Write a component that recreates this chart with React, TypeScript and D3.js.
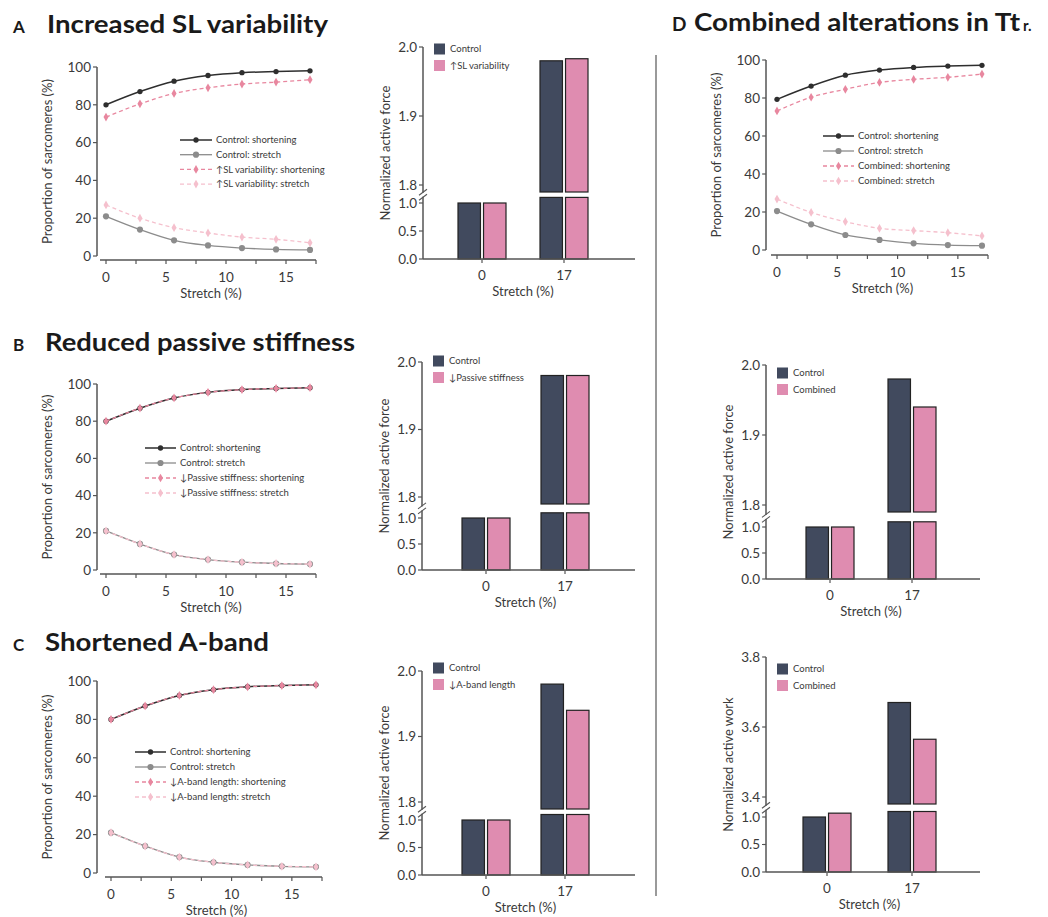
import { useRef, useEffect } from 'react'
import * as d3 from 'd3'

// line charts: proportion of sarcomeres vs stretch
const stretchPts = [0, 2.83, 5.67, 8.5, 11.33, 14.17, 17]
const ctrlShortening = [80, 87, 92.5, 95.5, 97, 97.6, 98]
const ctrlStretch = [21, 14, 8.3, 5.6, 4.2, 3.5, 3.2]
const slShortening = [73.5, 80.5, 86, 89, 91, 92, 93.3]
const slStretch = [27, 20, 15, 12.2, 10, 8.8, 7]
const passiveShortening = [80, 87, 92.5, 95.5, 97, 97.6, 98]
const passiveStretch = [21, 14, 8.3, 5.6, 4.2, 3.5, 3.2]
const abandShortening = [80, 87, 92.5, 95.5, 97, 97.6, 98]
const abandStretch = [21, 14, 8.3, 5.6, 4.2, 3.5, 3.2]
const dCtrlShortening = [79.3, 86.3, 92, 94.7, 96.1, 96.8, 97.2]
const dCtrlStretch = [20.5, 13.5, 7.9, 5.3, 3.5, 2.6, 2.3]
const combShortening = [73.2, 80.4, 84.6, 88.2, 89.8, 90.9, 92.6]
const combStretch = [26.8, 19.8, 14.9, 11.4, 10.2, 9.1, 7.4]

const stretchTicks = [0, 2.5, 5, 7.5, 10, 12.5, 15, 17.5]
const stretchLabels = [0, 5, 10, 15]
const proportionTicks = [0, 20, 40, 60, 80, 100]

// bar charts
const barCategories = ['0', '17']
const forceControl = [1.0, 1.98]
const forceSL = [1.0, 1.983]
const forcePassive = [1.0, 1.98]
const forceABand = [1.0, 1.94]
const forceCombined = [1.0, 1.94]
const workControl = [1.0, 3.67]
const workCombined = [1.07, 3.565]
const lowTicks = [0, 0.5, 1.0]
const forceTicks = [1.8, 1.9, 2.0]
const workTicks = [3.4, 3.6, 3.8]

const FONT = 'Lato, "Open Sans", sans-serif'
const TXT = '#3a3a3a'
const AXIS = '#555'
const DARK = '#2e2e2e'
const GREY = '#8c8c8c'
const PINK = '#e8879f'
const LPINK = '#f5c0cd'
const BAR_DARK = '#414a5e'
const BAR_PINK = '#df8cb0'
const TICK_SIZE = '13.5px'

function drawLinePanel(svg, cfg) {
    const x = d3.scaleLinear().domain([0, 17.5]).range([cfg.x0, cfg.x1])
    const y = d3.scaleLinear().domain([0, 100]).range([cfg.yBot, cfg.yTop])
    const g = svg.append('g')

    // y axis
    g.append('line')
        .attr('x1', cfg.ax).attr('x2', cfg.ax)
        .attr('y1', y(0)).attr('y2', y(100))
        .style('stroke', AXIS).style('stroke-width', 1.5)
    proportionTicks.forEach(t => {
        g.append('line')
            .attr('x1', cfg.ax - 4).attr('x2', cfg.ax)
            .attr('y1', y(t)).attr('y2', y(t))
            .style('stroke', AXIS).style('stroke-width', 1.2)
        g.append('text')
            .attr('x', cfg.ax - 6).attr('y', y(t)).attr('dy', '0.35em')
            .attr('text-anchor', 'end')
            .style('font-size', TICK_SIZE).style('font-family', FONT).style('fill', TXT)
            .text(t)
    })

    // x axis
    g.append('line')
        .attr('x1', x(0) - 6).attr('x2', x(17.5))
        .attr('y1', cfg.axisY).attr('y2', cfg.axisY)
        .style('stroke', AXIS).style('stroke-width', 1.5)
    stretchTicks.forEach(t => {
        g.append('line')
            .attr('x1', x(t)).attr('x2', x(t))
            .attr('y1', cfg.axisY).attr('y2', cfg.axisY + 4)
            .style('stroke', AXIS).style('stroke-width', 1.2)
    })
    stretchLabels.forEach(t => {
        g.append('text')
            .attr('x', x(t)).attr('y', cfg.axisY + 17).attr('dy', '0.35em')
            .attr('text-anchor', 'middle')
            .style('font-size', TICK_SIZE).style('font-family', FONT).style('fill', TXT)
            .text(t)
    })
    g.append('text')
        .attr('x', (x(0) + x(17.5)) / 2).attr('y', cfg.axisY + 33).attr('dy', '0.35em')
        .attr('text-anchor', 'middle')
        .style('font-size', '13px').style('font-family', FONT).style('fill', TXT)
        .text('Stretch (%)')
    g.append('text')
        .attr('transform', `translate(${cfg.ax - 50},${(y(0) + y(100)) / 2}) rotate(-90)`)
        .attr('dy', '0.35em')
        .attr('text-anchor', 'middle')
        .style('font-size', '13px').style('font-family', FONT).style('fill', TXT)
        .text('Proportion of sarcomeres (%)')

    const line = d3.line().x(d => x(d[0])).y(d => y(d[1])).curve(d3.curveMonotoneX)
    const marker = (s) => s.marker === 'circle'
        ? d3.symbol().type(d3.symbolCircle).size(s.size)()
        : d3.symbol().type(d3.symbolDiamond).size(s.size)()

    cfg.series.forEach(s => {
        const pts = stretchPts.map((v, i) => [v, s.values[i]])
        g.append('path')
            .attr('d', line(pts))
            .style('fill', 'none').style('stroke', s.color)
            .style('stroke-width', s.width)
            .style('stroke-dasharray', s.dash || null)
        g.selectAll(null)
            .data(pts)
            .enter()
            .append('path')
            .attr('d', marker(s))
            .attr('transform', d => `translate(${x(d[0])},${y(d[1])})`)
            .style('fill', s.color)
    })

    // legend
    cfg.series.forEach((s, i) => {
        const ly = cfg.legY + i * cfg.legStep
        g.append('line')
            .attr('x1', cfg.legX0).attr('x2', cfg.legX1)
            .attr('y1', ly).attr('y2', ly)
            .style('stroke', s.color).style('stroke-width', s.width)
            .style('stroke-dasharray', s.dash || null)
        g.append('path')
            .attr('d', marker(s))
            .attr('transform', `translate(${(cfg.legX0 + cfg.legX1) / 2},${ly})`)
            .style('fill', s.color)
        g.append('text')
            .attr('x', cfg.legX1 + 4).attr('y', ly).attr('dy', '0.35em')
            .style('font-size', '9.5px').style('font-family', FONT).style('fill', TXT)
            .text(s.label)
    })
}

function drawBarPanel(svg, cfg) {
    const low = d3.scaleLinear().domain([0, 1]).range([cfg.y0, cfg.y1])
    const high = d3.scaleLinear().domain([cfg.hiTicks[0], cfg.hiTicks[2]]).range([cfg.yLo, cfg.yHi])
    const xc = d3.scalePoint().domain(barCategories).range([cfg.c0, cfg.c1])
    const sub = d3.scaleBand().domain(['ctrl', 'treat']).range([-24, 24]).paddingInner(0.12)
    const g = svg.append('g')
    const cut = low(1.1)
    const upBottom = cfg.yLo + 7

    const series = [
        { key: 'ctrl', values: cfg.ctrl, color: BAR_DARK },
        { key: 'treat', values: cfg.treat, color: BAR_PINK },
    ]
    series.forEach(s => {
        barCategories.forEach((c, i) => {
            const v = s.values[i]
            const bx = xc(c) + sub(s.key)
            const bw = sub.bandwidth()
            const lowTop = v > 1.1 ? cut : low(v)
            g.append('rect')
                .attr('x', bx).attr('y', lowTop)
                .attr('width', bw).attr('height', cfg.y0 - lowTop)
                .style('fill', s.color).style('stroke', '#222').style('stroke-width', 1.2)
            if (v > 1.1) {
                g.append('rect')
                    .attr('x', bx).attr('y', high(v))
                    .attr('width', bw).attr('height', upBottom - high(v))
                    .style('fill', s.color).style('stroke', '#222').style('stroke-width', 1.2)
            }
        })
    })

    // y axis with break
    g.append('line')
        .attr('x1', cfg.ax).attr('x2', cfg.ax)
        .attr('y1', cfg.y0).attr('y2', cfg.yHi)
        .style('stroke', AXIS).style('stroke-width', 1.5)
    const by = (cut + upBottom) / 2
    g.append('rect')
        .attr('x', cfg.ax - 3).attr('y', by - 2)
        .attr('width', 6).attr('height', 4)
        .style('fill', '#fff')
    ;[-2.5, 2.5].forEach(o => {
        g.append('line')
            .attr('x1', cfg.ax - 4).attr('x2', cfg.ax + 4)
            .attr('y1', by + o + 3).attr('y2', by + o - 3)
            .style('stroke', AXIS).style('stroke-width', 1.1)
    })
    const ticks = [
        ...lowTicks.map(t => ({ t, y: low(t) })),
        ...cfg.hiTicks.map(t => ({ t, y: high(t) })),
    ]
    ticks.forEach(d => {
        g.append('line')
            .attr('x1', cfg.ax - 4).attr('x2', cfg.ax)
            .attr('y1', d.y).attr('y2', d.y)
            .style('stroke', AXIS).style('stroke-width', 1.2)
        g.append('text')
            .attr('x', cfg.ax - 6).attr('y', d.y).attr('dy', '0.35em')
            .attr('text-anchor', 'end')
            .style('font-size', TICK_SIZE).style('font-family', FONT).style('fill', TXT)
            .text(d.t.toFixed(1))
    })

    // x axis
    g.append('line')
        .attr('x1', cfg.ax).attr('x2', cfg.axEnd)
        .attr('y1', cfg.y0).attr('y2', cfg.y0)
        .style('stroke', AXIS).style('stroke-width', 1.5)
    barCategories.forEach(c => {
        g.append('line')
            .attr('x1', xc(c)).attr('x2', xc(c))
            .attr('y1', cfg.y0).attr('y2', cfg.y0 + 4)
            .style('stroke', AXIS).style('stroke-width', 1.2)
        g.append('text')
            .attr('x', xc(c)).attr('y', cfg.y0 + 16).attr('dy', '0.35em')
            .attr('text-anchor', 'middle')
            .style('font-size', TICK_SIZE).style('font-family', FONT).style('fill', TXT)
            .text(c)
    })
    g.append('text')
        .attr('x', (cfg.c0 + cfg.c1) / 2).attr('y', cfg.y0 + 32).attr('dy', '0.35em')
        .attr('text-anchor', 'middle')
        .style('font-size', '13px').style('font-family', FONT).style('fill', TXT)
        .text('Stretch (%)')
    g.append('text')
        .attr('transform', `translate(${cfg.ax - 38},${(cfg.y0 + cfg.yHi) / 2}) rotate(-90)`)
        .attr('dy', '0.35em')
        .attr('text-anchor', 'middle')
        .style('font-size', '13px').style('font-family', FONT).style('fill', TXT)
        .text(cfg.yLabel)

    // legend
    series.forEach((s, i) => {
        const ly = cfg.legY + i * 16.5
        g.append('rect')
            .attr('x', cfg.ax + 11).attr('y', ly - 5.5)
            .attr('width', 11).attr('height', 11)
            .style('fill', s.color)
        g.append('text')
            .attr('x', cfg.ax + 27).attr('y', ly).attr('dy', '0.35em')
            .style('font-size', '9.5px').style('font-family', FONT).style('fill', TXT)
            .text(cfg.labels[i])
    })
}

function lineSeries(short, stretch, tShort, tStretch, name) {
    return [
        { values: short, color: DARK, width: 1.5, marker: 'circle', size: 22, label: 'Control: shortening' },
        { values: stretch, color: GREY, width: 1.3, marker: 'circle', size: 30, label: 'Control: stretch' },
        { values: tShort, color: PINK, width: 1.3, dash: '4,3', marker: 'diamond', size: 22, label: `${name}: shortening` },
        { values: tStretch, color: LPINK, width: 1.3, dash: '4,3', marker: 'diamond', size: 22, label: `${name}: stretch` },
    ]
}

export default function App() {
    const svgRef = useRef(null)

    useEffect(() => {
        const svg = d3.select(svgRef.current)
        svg.selectAll('*').remove()

        // panel titles
        const titles = [
            { letter: 'A', lx: 13, text: 'Increased SL variability', tx: 47, w: 281, y: 33, ls: 17 },
            { letter: 'B', lx: 13, text: 'Reduced passive stiffness', tx: 45, w: 310, y: 351, ls: 17 },
            { letter: 'C', lx: 13, text: 'Shortened A-band', tx: 45, w: 224, y: 651, ls: 17 },
            { letter: 'D', lx: 672, text: 'Combined alterations in Tt', tx: 694, w: 326, y: 31, ls: 19 },
        ]
        titles.forEach(t => {
            svg.append('text')
                .attr('x', t.lx).attr('y', t.y)
                .style('font-size', `${t.ls}px`).style('font-weight', 700)
                .style('font-family', FONT).style('fill', '#1a1a1a')
                .text(t.letter)
            svg.append('text')
                .attr('x', t.tx).attr('y', t.y)
                .attr('textLength', t.w).attr('lengthAdjust', 'spacingAndGlyphs')
                .style('font-size', '24px').style('font-weight', 700)
                .style('font-family', FONT).style('fill', '#1a1a1a')
                .text(t.text)
        })
        svg.append('text')
            .attr('x', 1023).attr('y', 31)
            .style('font-size', '15px').style('font-weight', 700)
            .style('font-family', FONT).style('fill', '#1a1a1a')
            .text('r.')

        // divider
        svg.append('line')
            .attr('x1', 656).attr('x2', 656).attr('y1', 55).attr('y2', 896)
            .style('stroke', '#9a9a9a').style('stroke-width', 2)

        drawLinePanel(svg, {
            ax: 97, x0: 106, x1: 316, yTop: 67, yBot: 256, axisY: 260,
            legY: 140, legStep: 14.7, legX0: 180, legX1: 212,
            series: lineSeries(ctrlShortening, ctrlStretch, slShortening, slStretch, '↑SL variability'),
        })
        drawLinePanel(svg, {
            ax: 97, x0: 106, x1: 316, yTop: 384, yBot: 570, axisY: 574,
            legY: 448, legStep: 15, legX0: 145, legX1: 176,
            series: lineSeries(ctrlShortening, ctrlStretch, passiveShortening, passiveStretch, '↓Passive stiffness'),
        })
        drawLinePanel(svg, {
            ax: 97, x0: 111, x1: 322, yTop: 681, yBot: 873, axisY: 877,
            legY: 752, legStep: 15, legX0: 135, legX1: 166,
            series: lineSeries(ctrlShortening, ctrlStretch, abandShortening, abandStretch, '↓A-band length'),
        })
        drawLinePanel(svg, {
            ax: 766, x0: 777, x1: 988, yTop: 60, yBot: 250, axisY: 255,
            legY: 136, legStep: 15, legX0: 823, legX1: 854,
            series: lineSeries(dCtrlShortening, dCtrlStretch, combShortening, combStretch, 'Combined'),
        })

        drawBarPanel(svg, {
            ax: 423, axEnd: 635, y0: 259, y1: 203, yLo: 185, yHi: 47, c0: 482, c1: 564,
            hiTicks: forceTicks, ctrl: forceControl, treat: forceSL, legY: 49,
            yLabel: 'Normalized active force', labels: ['Control', '↑SL variability'],
        })
        drawBarPanel(svg, {
            ax: 422, axEnd: 635, y0: 570, y1: 518, yLo: 497, yHi: 362, c0: 486, c1: 565,
            hiTicks: forceTicks, ctrl: forceControl, treat: forcePassive, legY: 361,
            yLabel: 'Normalized active force', labels: ['Control', '↓Passive stiffness'],
        })
        drawBarPanel(svg, {
            ax: 422, axEnd: 635, y0: 875, y1: 820, yLo: 802, yHi: 671, c0: 486, c1: 565,
            hiTicks: forceTicks, ctrl: forceControl, treat: forceABand, legY: 668,
            yLabel: 'Normalized active force', labels: ['Control', '↓A-band length'],
        })
        drawBarPanel(svg, {
            ax: 766, axEnd: 980, y0: 579, y1: 527, yLo: 505, yHi: 365, c0: 830, c1: 912,
            hiTicks: forceTicks, ctrl: forceControl, treat: forceCombined, legY: 373,
            yLabel: 'Normalized active force', labels: ['Control', 'Combined'],
        })
        drawBarPanel(svg, {
            ax: 766, axEnd: 980, y0: 872, y1: 817, yLo: 797, yHi: 657, c0: 827, c1: 912,
            hiTicks: workTicks, ctrl: workControl, treat: workCombined, legY: 669,
            yLabel: 'Normalized active work', labels: ['Control', 'Combined'],
        })
    }, [])

    return (
        <svg
            ref={svgRef}
            width={1048}
            height={917}
            style={{ position: 'absolute', left: 0, top: 0, background: '#fff' }}
        />
    )
}
